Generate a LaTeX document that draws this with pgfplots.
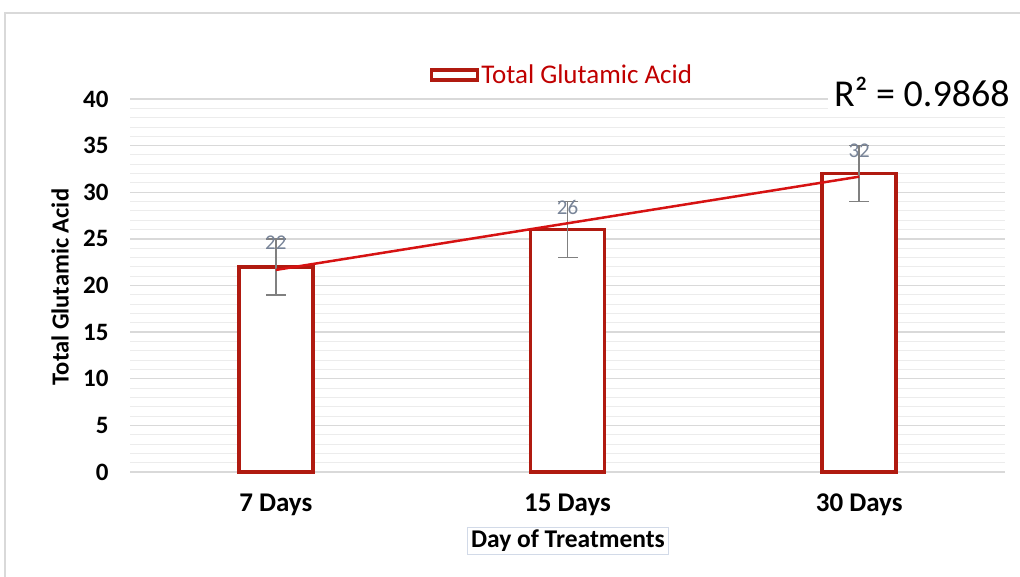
\documentclass[border=0pt]{standalone}
\usepackage{fontspec}
\setmainfont{Carlito}
\usepackage{pgfplots}
\pgfplotsset{compat=1.18}
\definecolor{barred}{RGB}{176,26,16}
\definecolor{trendred}{RGB}{214,18,18}
\definecolor{legred}{RGB}{192,0,0}
\definecolor{majgrid}{RGB}{217,217,217}
\definecolor{mingrid}{RGB}{236,236,236}
\definecolor{lblgray}{RGB}{120,132,152}
\definecolor{boxcol}{RGB}{210,218,232}
\begin{document}
\begin{tikzpicture}
\useasboundingbox (0,0) rectangle (1020pt,577pt);
\draw[line width=1.2pt, majgrid] (5pt,-20pt) -- (5pt,564pt) -- (1040pt,564pt);
\begin{axis}[
  at={(130pt,105pt)}, anchor=south west,
  scale only axis, width=875pt, height=373pt,
  xmin=-0.5, xmax=2.5, ymin=0, ymax=40,
  xtick={0,1,2}, xticklabels={7 Days,15 Days,30 Days},
  ytick={0,5,...,40},
  minor y tick num=4,
  ymajorgrids, yminorgrids,
  major grid style={majgrid, line width=1.3pt},
  minor grid style={mingrid, line width=0.9pt},
  axis line style={draw=none},
  major tick length=0pt, minor tick length=0pt,
  /pgf/number format/assume math mode=true,
  yticklabel style={font=\fontsize{25}{29}\selectfont\bfseries, xshift=-18pt},
  xticklabel style={font=\fontsize{27}{31}\selectfont\bfseries, yshift=-18pt},
  every axis y label/.style={at={(axis description cs:-0.08,0.496)}, rotate=90, anchor=center, font=\fontsize{24.5}{28}\selectfont\bfseries},
  every axis x label/.style={at={(axis description cs:0.5006,-0.185)}, anchor=center, font=\fontsize{25.5}{29}\selectfont\bfseries, draw=boxcol, line width=1pt, inner xsep=4pt, inner ysep=3pt},
  ylabel={Total Glutamic Acid},
  xlabel={Day of Treatments},
  legend style={draw=none, at={(0.4937,1.064)}, anchor=center, font=\fontsize{27}{30}\selectfont, text=legred, inner sep=0pt, /tikz/every even column/.append style={column sep=0pt}},
  legend image code/.code={\draw[line width=3.5pt, draw=barred, fill=white] (0pt,-5pt) rectangle (46pt,5pt);},
  clip=false,
]
\addplot[ybar, bar width=74pt, bar shift=0pt, draw=barred, fill=white, line width=3.8pt,
  error bars/.cd, y dir=both, y explicit,
  error bar style={line width=1.5pt, gray},
  error mark options={line width=1.5pt, gray, mark size=10pt, rotate=90}]
  coordinates {(0,22) +- (0,3) (1,26) +- (0,3) (2,32) +- (0,3)};
\addlegendentry{Total Glutamic Acid}
\addplot[sharp plot, trendred, line width=2.5pt, forget plot] coordinates {(0,21.67) (2,31.67)};
\addplot[only marks, mark=none, forget plot,
  nodes near coords, point meta=explicit symbolic,
  every node near coord/.style={anchor=center, text=lblgray, font=\fontsize{21}{24}\selectfont}]
  coordinates {(0,24.6) [22] (1,28.4) [26] (2,34.5) [32]};
\node[fill=white, inner sep=6pt, font=\fontsize{38}{42}\selectfont, anchor=center] at (rel axis cs:0.905,1.019) {R² = 0.9868};
\end{axis}
\end{tikzpicture}
\end{document}
